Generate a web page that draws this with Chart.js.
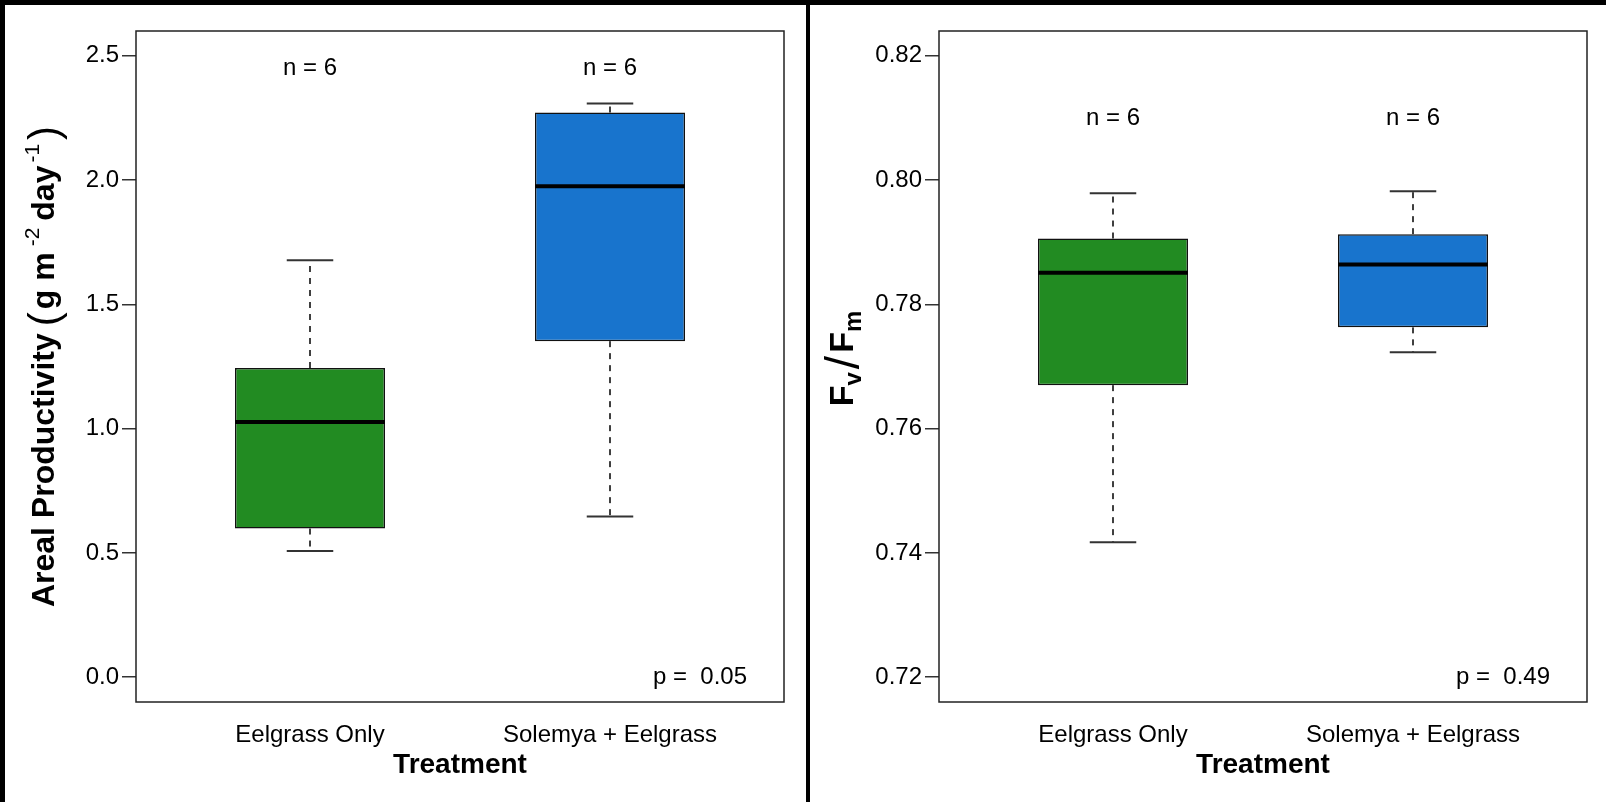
<!DOCTYPE html>
<html>
<head>
<meta charset="utf-8">
<script src="https://cdn.jsdelivr.net/npm/chart.js@4.4.1/dist/chart.umd.min.js"></script>
<style>
  html, body { margin: 0; padding: 0; background: #fff; }
  #wrap { position: relative; width: 1606px; height: 802px; overflow: hidden; background: #fff; }
  .panel { position: absolute; top: 0; width: 803px; height: 802px; }
  .bar { position: absolute; background: #000; }
</style>
</head>
<body>
<div id="wrap">
  <canvas id="prodChart" class="panel" style="left:0" width="803" height="802"></canvas>
  <canvas id="fvfmChart" class="panel" style="left:803px" width="803" height="802"></canvas>
  <div class="bar" style="left:0;top:0;width:1606px;height:5px"></div>
  <div class="bar" style="left:0;top:0;width:5px;height:802px"></div>
  <div class="bar" style="left:806px;top:0;width:4px;height:802px"></div>
</div>
<script>
// Treatments and per-group box statistics
const treatments = ['Eelgrass Only', 'Solemya + Eelgrass'];
const boxColors = ['#228B22', '#1874CD'];
const sampleSizes = [6, 6];

// Areal productivity (g m^-2 day^-1)
const prodMin = [0.508, 0.646];
const prodQ1 = [0.598, 1.352];
const prodMedian = [1.027, 1.975];
const prodQ3 = [1.244, 2.272];
const prodMax = [1.678, 2.308];
const prodTicks = [0, 0.5, 1.0, 1.5, 2.0, 2.5];
const prodP = '0.05';

// Photosynthetic efficiency Fv/Fm
const fvfmMin = [0.7417, 0.7723];
const fvfmQ1 = [0.7670, 0.7763];
const fvfmMedian = [0.7851, 0.7864];
const fvfmQ3 = [0.7906, 0.7913];
const fvfmMax = [0.7979, 0.7982];
const fvfmTicks = [0.72, 0.74, 0.76, 0.78, 0.80, 0.82];
const fvfmP = '0.49';

const FONT = '"Liberation Sans", Arial, Helvetica, sans-serif';

function line(ctx, x1, y1, x2, y2) {
  ctx.beginPath(); ctx.moveTo(x1, y1); ctx.lineTo(x2, y2); ctx.stroke();
}

// Draws whiskers, caps, medians, frame, n / p annotations and the rich y title
function boxExtras(cfg) {
  return {
    id: 'boxExtras',
    afterDatasetsDraw(chart) {
      const { ctx, chartArea, scales: { x, y } } = chart;
      const meta = chart.getDatasetMeta(0);
      ctx.save();
      cfg.median.forEach((m, i) => {
        const bar = meta.data[i];
        const cx = x.getPixelForValue(i + 1);
        const half = bar.width / 2;
        const capHalf = half * 0.31;
        const yMin = y.getPixelForValue(cfg.min[i]);
        const yQ1 = y.getPixelForValue(cfg.q1[i]);
        const yQ3 = y.getPixelForValue(cfg.q3[i]);
        const yMax = y.getPixelForValue(cfg.max[i]);
        const yMed = y.getPixelForValue(m);
        ctx.strokeStyle = '#000';
        ctx.lineWidth = 1.5;
        ctx.setLineDash([6, 6]);
        line(ctx, cx, yQ3, cx, yMax);
        line(ctx, cx, yQ1, cx, yMin);
        ctx.setLineDash([]);
        ctx.strokeStyle = '#333';
        ctx.lineWidth = 2;
        line(ctx, cx - capHalf, yMax, cx + capHalf, yMax);
        line(ctx, cx - capHalf, yMin, cx + capHalf, yMin);
        ctx.strokeStyle = '#000';
        ctx.lineWidth = 4;
        line(ctx, cx - half, yMed, cx + half, yMed);
      });
      ctx.lineWidth = 1.5;
      ctx.strokeStyle = '#222';
      ctx.strokeRect(chartArea.left, chartArea.top, chartArea.width, chartArea.height);

      ctx.fillStyle = '#000';
      ctx.font = '24px ' + FONT;
      ctx.textAlign = 'center';
      ctx.textBaseline = 'middle';
      sampleSizes.forEach((n, i) => {
        ctx.fillText('n = ' + n, x.getPixelForValue(i + 1), y.getPixelForValue(cfg.nY));
      });
      ctx.fillText('p =  ' + cfg.p, x.getPixelForValue(cfg.pX), y.getPixelForValue(cfg.pY));
      ctx.restore();
    },
    afterDraw(chart) {
      const { ctx, chartArea } = chart;
      ctx.save();
      ctx.fillStyle = '#000';
      ctx.textBaseline = 'alphabetic';
      ctx.textAlign = 'left';
      let total = 0;
      cfg.title.forEach(s => { ctx.font = s.font; s.w = ctx.measureText(s.text).width; total += s.w + (s.gap || 0); });
      ctx.translate(cfg.titleX, (chartArea.top + chartArea.bottom) / 2 + (cfg.titleShift || 0));
      ctx.rotate(-Math.PI / 2);
      let pos = -total / 2;
      cfg.title.forEach(s => {
        ctx.font = s.font;
        ctx.fillText(s.text, pos, cfg.titleBase + (s.dy || 0));
        pos += s.w + (s.gap || 0);
      });
      ctx.restore();
    }
  };
}

function makeChart(id, cfg) {
  const boxData = treatments.map((t, i) => ({ x: i + 1, y: [cfg.q1[i], cfg.q3[i]] }));
  return new Chart(document.getElementById(id), {
    type: 'bar',
    data: {
      datasets: [{
        data: boxData,
        backgroundColor: boxColors,
        borderColor: '#111',
        borderWidth: 1.5,
        borderSkipped: false,
        categoryPercentage: 1,
        barPercentage: 0.5
      }]
    },
    options: {
      responsive: false,
      animation: false,
      events: [],
      layout: { padding: { top: 31, right: 19, left: 0, bottom: 0 } },
      plugins: { legend: { display: false }, tooltip: { enabled: false } },
      scales: {
        x: {
          type: 'linear',
          offset: false,
          min: 0.42, max: 2.58,
          afterBuildTicks: axis => { axis.ticks = treatments.map((t, i) => ({ value: i + 1 })); },
          afterFit: axis => { axis.height = 100; },
          grid: { display: false, drawTicks: false, offset: false },
          border: { display: false },
          ticks: {
            autoSkip: false, maxRotation: 0, padding: 19,
            color: '#000', font: { family: FONT, size: 24 },
            callback: v => treatments[Math.round(v) - 1]
          },
          title: {
            display: true, text: 'Treatment', color: '#000',
            font: { family: FONT, size: 28, weight: 'bold' },
            padding: { top: 0, bottom: 20 }
          }
        },
        y: {
          type: 'linear',
          min: cfg.yMin, max: cfg.yMax,
          afterBuildTicks: axis => { axis.ticks = cfg.ticks.map(v => ({ value: v })); },
          afterFit: axis => { axis.width = 136; },
          grid: { display: true, drawOnChartArea: false, drawTicks: true, tickLength: 14, color: '#333', lineWidth: 1.5 },
          border: { display: false },
          ticks: {
            padding: 3, color: '#000', font: { family: FONT, size: 24 },
            callback: v => v.toFixed(cfg.decimals)
          }
        }
      }
    },
    plugins: [boxExtras(cfg)]
  });
}

const boldT = 'bold 32px ' + FONT;
makeChart('prodChart', {
  min: prodMin, q1: prodQ1, median: prodMedian, q3: prodQ3, max: prodMax,
  ticks: prodTicks, yMin: -0.1, yMax: 2.6, decimals: 1,
  nY: 2.45, p: prodP, pX: 2.3, pY: 0,
  titleX: 43, titleBase: 11,
  title: [
    { text: 'Areal Productivity', font: boldT, gap: 7 },
    { text: '(', font: '42px ' + FONT, dy: 4, gap: 3 },
    { text: 'g m', font: boldT, gap: 6 },
    { text: '-2', font: '21px ' + FONT, dy: -15, gap: 7 },
    { text: 'day', font: boldT, gap: 3 },
    { text: '-1', font: '21px ' + FONT, dy: -15, gap: 4 },
    { text: ')', font: '42px ' + FONT, dy: 4 }
  ]
});

makeChart('fvfmChart', {
  min: fvfmMin, q1: fvfmQ1, median: fvfmMedian, q3: fvfmQ3, max: fvfmMax,
  ticks: fvfmTicks, yMin: 0.716, yMax: 0.824, decimals: 2,
  nY: 0.81, p: fvfmP, pX: 2.3, pY: 0.72,
  titleX: 38, titleBase: 12, titleShift: -8,
  title: [
    { text: 'F', font: 'bold 34px ' + FONT },
    { text: 'v', font: 'bold 24px ' + FONT, dy: 8, gap: 3 },
    { text: '/', font: '48px ' + FONT, dy: 6, gap: 3 },
    { text: 'F', font: 'bold 34px ' + FONT },
    { text: 'm', font: 'bold 24px ' + FONT, dy: 8 }
  ]
});
</script>
</body>
</html>
